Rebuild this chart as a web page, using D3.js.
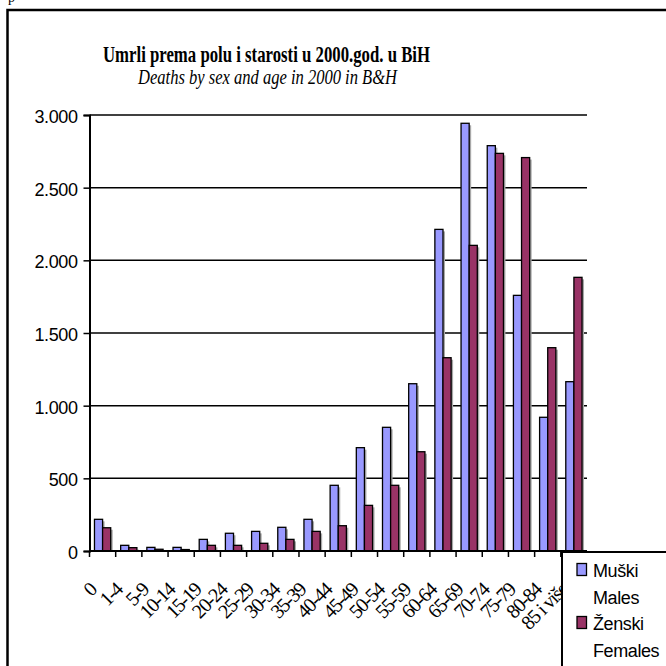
<!DOCTYPE html>
<html>
<head>
<meta charset="utf-8">
<script src="https://cdn.jsdelivr.net/npm/d3@7"></script>
<style>
  html, body { margin: 0; padding: 0; background: #fff; }
  svg { display: block; }
</style>
</head>
<body>
<script>
// ---- data ----
const categories = ["0","1-4","5-9","10-14","15-19","20-24","25-29","30-34","35-39","40-44",
  "45-49","50-54","55-59","60-64","65-69","70-74","75-79","80-84","85 i više"];
const males   = [218, 39, 25, 25, 80, 122, 135, 163, 218, 452, 711, 851, 1151, 2213, 2943, 2789, 1759, 920, 1165];
const females = [160, 23, 12, 10, 39, 39, 53, 80, 135, 174, 314, 452, 683, 1330, 2103, 2736, 2707, 1399, 1883];
const yTicks = [0, 500, 1000, 1500, 2000, 2500, 3000];
const seriesNames = [["Muški", "Males"], ["Ženski", "Females"]];
const titleText = "Umrli prema polu i starosti u 2000.god. u BiH";
const subtitleText = "Deaths by sex and age in 2000 in B&H";

const W = 666, H = 666;
const colors = ["#9999FF", "#993366"];

const svg = d3.select("body").append("svg").attr("width", W).attr("height", H);

// stray glyph at the page top
svg.append("text").attr("x", 8).attr("y", 1.5)
  .attr("font-family", "Liberation Serif").attr("font-size", 14).text("p");

// outer frame
svg.append("rect").attr("x", 7.5).attr("y", 10).attr("width", 720).attr("height", 720)
  .attr("fill", "none").attr("stroke", "#000").attr("stroke-width", 2.5);

// titles
svg.append("text").attr("x", 266.5).attr("y", 61.5).attr("text-anchor", "middle")
  .attr("font-family", "Liberation Serif").attr("font-weight", "bold").attr("font-size", 22.5)
  .attr("textLength", 327).attr("lengthAdjust", "spacingAndGlyphs").text(titleText);
svg.append("text").attr("x", 267.5).attr("y", 84).attr("text-anchor", "middle")
  .attr("font-family", "Liberation Serif").attr("font-style", "italic").attr("font-size", 20)
  .attr("textLength", 259).attr("lengthAdjust", "spacingAndGlyphs").text(subtitleText);

// scales
const x0 = d3.scaleBand().domain(categories).range([89.5, 587]).paddingInner(0.38).paddingOuter(0.19);
const x1 = d3.scaleBand().domain([0, 1]).range([0, x0.bandwidth()]);
const y = d3.scaleLinear().domain([0, 3000]).range([551, 115]);

// gridlines
svg.append("g").selectAll("line").data(yTicks.filter(d => d > 0)).join("line")
  .attr("x1", 89.5).attr("x2", 587).attr("y1", d => y(d)).attr("y2", d => y(d))
  .attr("stroke", "#000").attr("stroke-width", 1.5);

// bars
const data = categories.map((c, i) => ({ c, v: [males[i], females[i]] }));
const groups = svg.append("g").selectAll("g").data(data).join("g")
  .attr("transform", d => `translate(${x0(d.c)},0)`);
groups.selectAll("rect.sh").data(d => d.v.map((v, k) => ({ v, k }))).join("rect")
  .attr("class", "sh")
  .attr("x", d => x1(d.k) + 2).attr("y", d => y(d.v) + 2)
  .attr("width", x1.bandwidth()).attr("height", d => Math.max(0, y(0) - y(d.v) - 2))
  .attr("fill", "#a8a8a8");
groups.selectAll("rect.bar").data(d => d.v.map((v, k) => ({ v, k }))).join("rect")
  .attr("class", "bar")
  .attr("x", d => x1(d.k)).attr("y", d => y(d.v))
  .attr("width", x1.bandwidth()).attr("height", d => y(0) - y(d.v))
  .attr("fill", d => colors[d.k]).attr("stroke", "#000").attr("stroke-width", 1.3);

// y axis
const yAxis = d3.axisLeft(y).tickValues(yTicks).tickSize(6).tickPadding(6)
  .tickFormat(d => d3.format(",")(d).replace(/,/g, "."));
const gy = svg.append("g").attr("transform", "translate(89.5,0)").call(yAxis);
gy.select(".domain").attr("stroke", "#000").attr("stroke-width", 2);
gy.selectAll(".tick line").attr("stroke", "#000").attr("stroke-width", 1.5);
gy.selectAll(".tick text").attr("font-family", "Liberation Sans").attr("font-size", 18)
  .attr("fill", "#000").attr("letter-spacing", -0.4).attr("dy", "0.42em");

// x axis
const step = x0.step();
const boundaries = d3.range(categories.length + 1).map(i => x0(categories[0]) - x0.paddingOuter() * step + i * step);
svg.append("line").attr("x1", 89.5).attr("x2", 587).attr("y1", 551).attr("y2", 551)
  .attr("stroke", "#000").attr("stroke-width", 2);
svg.append("g").selectAll("line").data(boundaries).join("line")
  .attr("x1", d => d).attr("x2", d => d).attr("y1", 551).attr("y2", 557)
  .attr("stroke", "#000").attr("stroke-width", 1.5);
svg.append("g").selectAll("text").data(categories).join("text")
  .attr("transform", d => `translate(${x0(d) + x0.bandwidth() / 2 - 5},591) rotate(-45)`)
  .attr("text-anchor", "end")
  .attr("font-family", "Liberation Serif").attr("font-size", 20)
  .attr("letter-spacing", -1.3)
  .text(d => d);

// legend
const lg = svg.append("g");
lg.append("rect").attr("x", 562).attr("y", 552).attr("width", 140).attr("height", 140)
  .attr("fill", "#fff").attr("stroke", "#000").attr("stroke-width", 2);
const rows = [577, 630];
seriesNames.forEach((n, k) => {
  lg.append("rect").attr("x", 577).attr("y", rows[k] - 13.5).attr("width", 9.5).attr("height", 12)
    .attr("fill", colors[k]).attr("stroke", "#000").attr("stroke-width", 1.3);
  lg.append("text").attr("x", 593).attr("y", rows[k])
    .attr("font-family", "Liberation Sans").attr("font-size", 18).attr("letter-spacing", -0.4).text(n[0]);
  lg.append("text").attr("x", 593).attr("y", rows[k] + 27)
    .attr("font-family", "Liberation Sans").attr("font-size", 18).attr("letter-spacing", -0.4).text(n[1]);
});
</script>
</body>
</html>
